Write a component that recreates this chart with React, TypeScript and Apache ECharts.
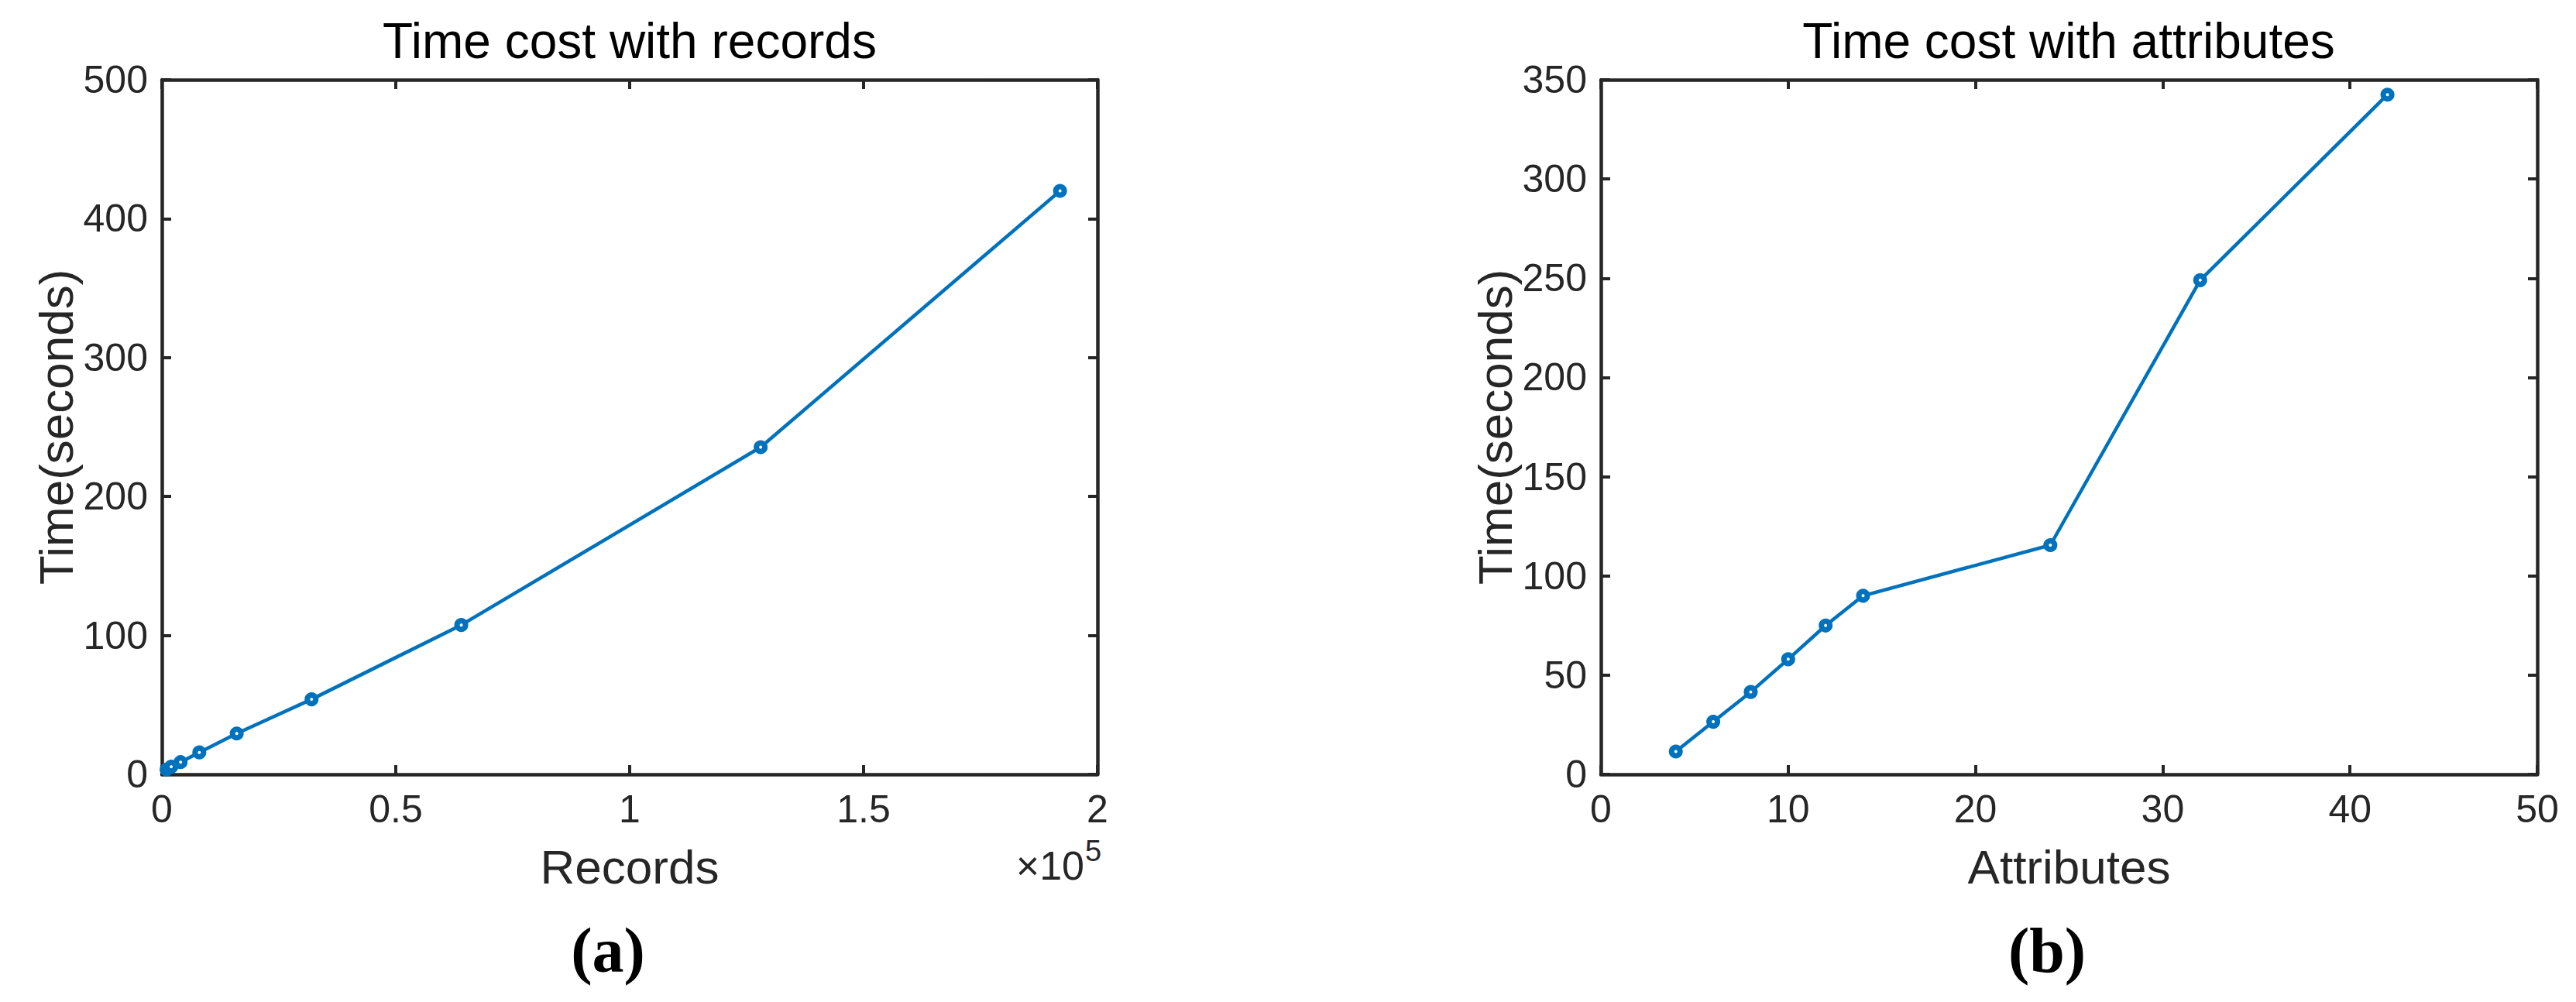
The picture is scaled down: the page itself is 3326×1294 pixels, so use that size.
import React, { useEffect, useRef } from "react";
import * as echarts from "echarts";

const records = [1000, 2000, 4000, 8000, 16000, 32000, 64000, 128000, 192000];
const recordTimes = [3.5, 5.5, 8.8, 15.8, 29.4, 54, 107.5, 235.5, 420];
const attributes = [4, 6, 8, 10, 12, 14, 24, 32, 42];
const attributeTimes = [11.5, 26.5, 41.5, 58, 75, 90, 115.5, 249, 342.5];

const leftTitle = "Time cost with records";
const rightTitle = "Time cost with attributes";
const leftXName = "Records";
const rightXName = "Attributes";
const yName = "Time(seconds)";
const leftCaption = "(a)";
const rightCaption = "(b)";

const AXIS = "#262626";
const BLUE = "#0072BD";
const SANS = "'Liberation Sans', Arial, Helvetica, sans-serif";
const SERIF = "'Liberation Serif', 'Times New Roman', serif";

const G = [
  { left: 209, top: 103, width: 1208, height: 897 },
  { left: 2067, top: 103, width: 1209, height: 897 },
];

function axisCommon(showLabels: boolean) {
  return {
    axisLine: { show: true, onZero: false, lineStyle: { color: AXIS, width: 4.5 } },
    axisTick: { show: true, inside: true, length: 12, lineStyle: { color: AXIS, width: 4 } },
    splitLine: { show: false },
    axisLabel: {
      show: showLabels,
      color: AXIS,
      fontFamily: SANS,
      fontSize: 50,
      showMinLabel: true,
      showMaxLabel: true,
    },
  };
}

export default function App() {
  const ref = useRef<HTMLDivElement>(null);
  useEffect(() => {
    if (!ref.current) return;
    const chart = echarts.init(ref.current, undefined, { renderer: "svg" });
    const xAx = (gridIndex: number, position: string, min: number, max: number, interval: number, labels: boolean, name?: string, fmt?: (v: number) => string) => {
      const c: any = axisCommon(labels);
      c.axisLabel.margin = 20;
      if (fmt) c.axisLabel.formatter = fmt;
      return {
        type: "value",
        gridIndex,
        position,
        min,
        max,
        interval,
        name: name || "",
        nameLocation: "middle",
        nameGap: 88,
        nameTextStyle: { color: AXIS, fontFamily: SANS, fontSize: 62 },
        ...c,
      };
    };
    const yAx = (gridIndex: number, position: string, min: number, max: number, interval: number, labels: boolean, name?: string) => {
      const c: any = axisCommon(labels);
      c.axisLabel.margin = 18;
      return {
        type: "value",
        gridIndex,
        position,
        min,
        max,
        interval,
        name: name || "",
        nameLocation: "middle",
        nameGap: 106,
        nameRotate: 90,
        nameTextStyle: { color: AXIS, fontFamily: SANS, fontSize: 62 },
        ...c,
      };
    };
    const seriesStyle = {
      type: "line",
      symbol: "circle",
      symbolSize: 11,
      showSymbol: true,
      clip: false,
      lineStyle: { color: BLUE, width: 4.5 },
      itemStyle: { color: "#ffffff", borderColor: BLUE, borderWidth: 7 },
      z: 5,
    };
    chart.setOption({
      animation: false,
      backgroundColor: "#ffffff",
      grid: G.map((g) => ({ ...g, containLabel: false })),
      xAxis: [
        xAx(0, "bottom", 0, 200000, 50000, true, leftXName, (v: number) => String(v / 100000)),
        xAx(0, "top", 0, 200000, 50000, false),
        xAx(1, "bottom", 0, 50, 10, true, rightXName),
        xAx(1, "top", 0, 50, 10, false),
      ],
      yAxis: [
        yAx(0, "left", 0, 500, 100, true, yName),
        yAx(0, "right", 0, 500, 100, false),
        yAx(1, "left", 0, 350, 50, true, yName),
        yAx(1, "right", 0, 350, 50, false),
      ],
      series: [
        { ...seriesStyle, xAxisIndex: 0, yAxisIndex: 0, data: records.map((r, i) => [r, recordTimes[i]]) },
        { ...seriesStyle, xAxisIndex: 2, yAxisIndex: 2, data: attributes.map((a, i) => [a, attributeTimes[i]]) },
      ],
      graphic: [
        { type: "text", x: 813, y: 53, style: { text: leftTitle, font: `64px ${SANS}`, fill: "#000", align: "center", verticalAlign: "middle" } },
        { type: "text", x: 2671, y: 53, style: { text: rightTitle, font: `64px ${SANS}`, fill: "#000", align: "center", verticalAlign: "middle" } },
        { type: "text", x: 1400, y: 1144, style: { text: "×10", font: `52px ${SANS}`, fill: AXIS, align: "right", verticalAlign: "bottom" } },
        { type: "text", x: 1401, y: 1118, style: { text: "5", font: `38px ${SANS}`, fill: AXIS, align: "left", verticalAlign: "bottom" } },
        { type: "text", x: 785, y: 1227, style: { text: leftCaption, font: `bold 82px ${SERIF}`, fill: "#000", align: "center", verticalAlign: "middle" } },
        { type: "text", x: 2643, y: 1227, style: { text: rightCaption, font: `bold 82px ${SERIF}`, fill: "#000", align: "center", verticalAlign: "middle" } },
      ],
    });
    return () => chart.dispose();
  }, []);
  return (
    <div
      ref={ref}
      style={{ position: "fixed", left: 0, top: 0, width: 3326, height: 1294, background: "#fff" }}
    />
  );
}
